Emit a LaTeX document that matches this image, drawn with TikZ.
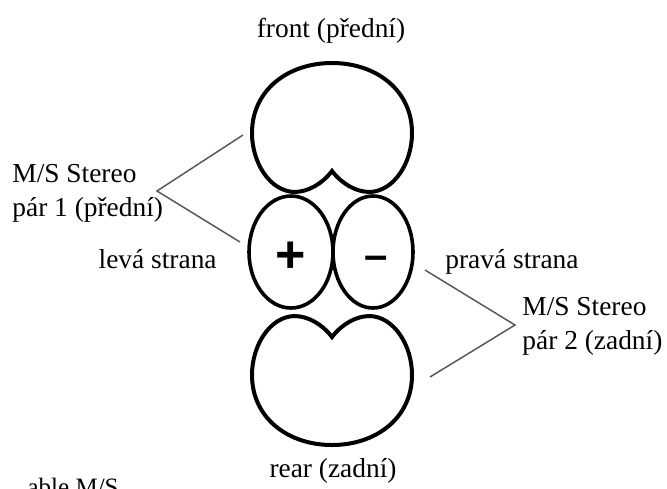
\documentclass[tikz,border=0pt]{standalone}
\usepackage{fontspec}
\setmainfont{Liberation Serif}
\newfontfamily\signfont{Liberation Sans}
\usetikzlibrary{positioning}

\tikzset{
  lbl/.style={font=\fontsize{13.7}{17}\selectfont, inner sep=0pt},
  bracket/.style={draw=black!65, line width=0.75pt},
  mic/.style={draw=black, line width=2pt},
  sign/.style={font=\signfont\bfseries\fontsize{26}{26}\selectfont, inner sep=0pt}
}

% cardioid lobe around the origin, notch at the bottom
\newcommand{\cardpath}{(0,-65) .. controls (44,-65) and (80,-38) .. (80,5)
  .. controls (80,35) and (62,63) .. (38,64)
  .. controls (24,64) and (10,56) .. (0,43)
  .. controls (-10,56) and (-24,64) .. (-38,64)
  .. controls (-62,63) and (-80,35) .. (-80,5)
  .. controls (-80,-38) and (-44,-65) .. (0,-65) -- cycle}

\begin{document}
\begin{tikzpicture}[x=0.5pt,y=-0.5pt]
  \useasboundingbox (0,0) rectangle (667,488);

  % front and rear patterns
  \draw[mic, shift={(332,128)}] \cardpath;
  \draw[mic, shift={(332,380)}, yscale=-1] \cardpath;

  % side figure-of-eight
  \draw[mic, line width=1.8pt] (291,252) ellipse [x radius=42, y radius=56];
  \draw[mic, line width=1.8pt] (373,252) ellipse [x radius=40, y radius=56];
  \node[sign] (plus) at (291,257) {+};
  \node[sign, font=\signfont\bfseries\fontsize{21}{21}\selectfont] (minus) at (376,263) {–};

  % labels
  \node[lbl, anchor=base] (front) at (331,37) {front (přední)};
  \node[lbl, anchor=base] (rear) at (333,477) {rear (zadní)};
  \node[lbl, anchor=base east] (leva) at (217,268) {levá strana};
  \node[lbl, anchor=base west] (prava) at (445,268) {pravá strana};
  \node[lbl, align=left, anchor=west] (pair1) at (12,193) {M/S Stereo\\pár 1 (přední)};
  \node[lbl, align=left, anchor=west] (pair2) at (522,326) {M/S Stereo\\pár 2 (zadní)};
  \node[lbl, font=\fontsize{12.5}{14}\selectfont, anchor=base east] (cut) at (119,495) {able M/S};

  % brackets
  \coordinate (v1) at (157,191);
  \coordinate (a1) at (243,135);
  \coordinate (b1) at (240,242);
  \coordinate (v2) at (515,325);
  \coordinate (a2) at (425,270);
  \coordinate (b2) at (430,377);
  \draw[bracket] (a1) -- (v1) -- (b1);
  \draw[bracket] (a2) -- (v2) -- (b2);
\end{tikzpicture}
\end{document}
